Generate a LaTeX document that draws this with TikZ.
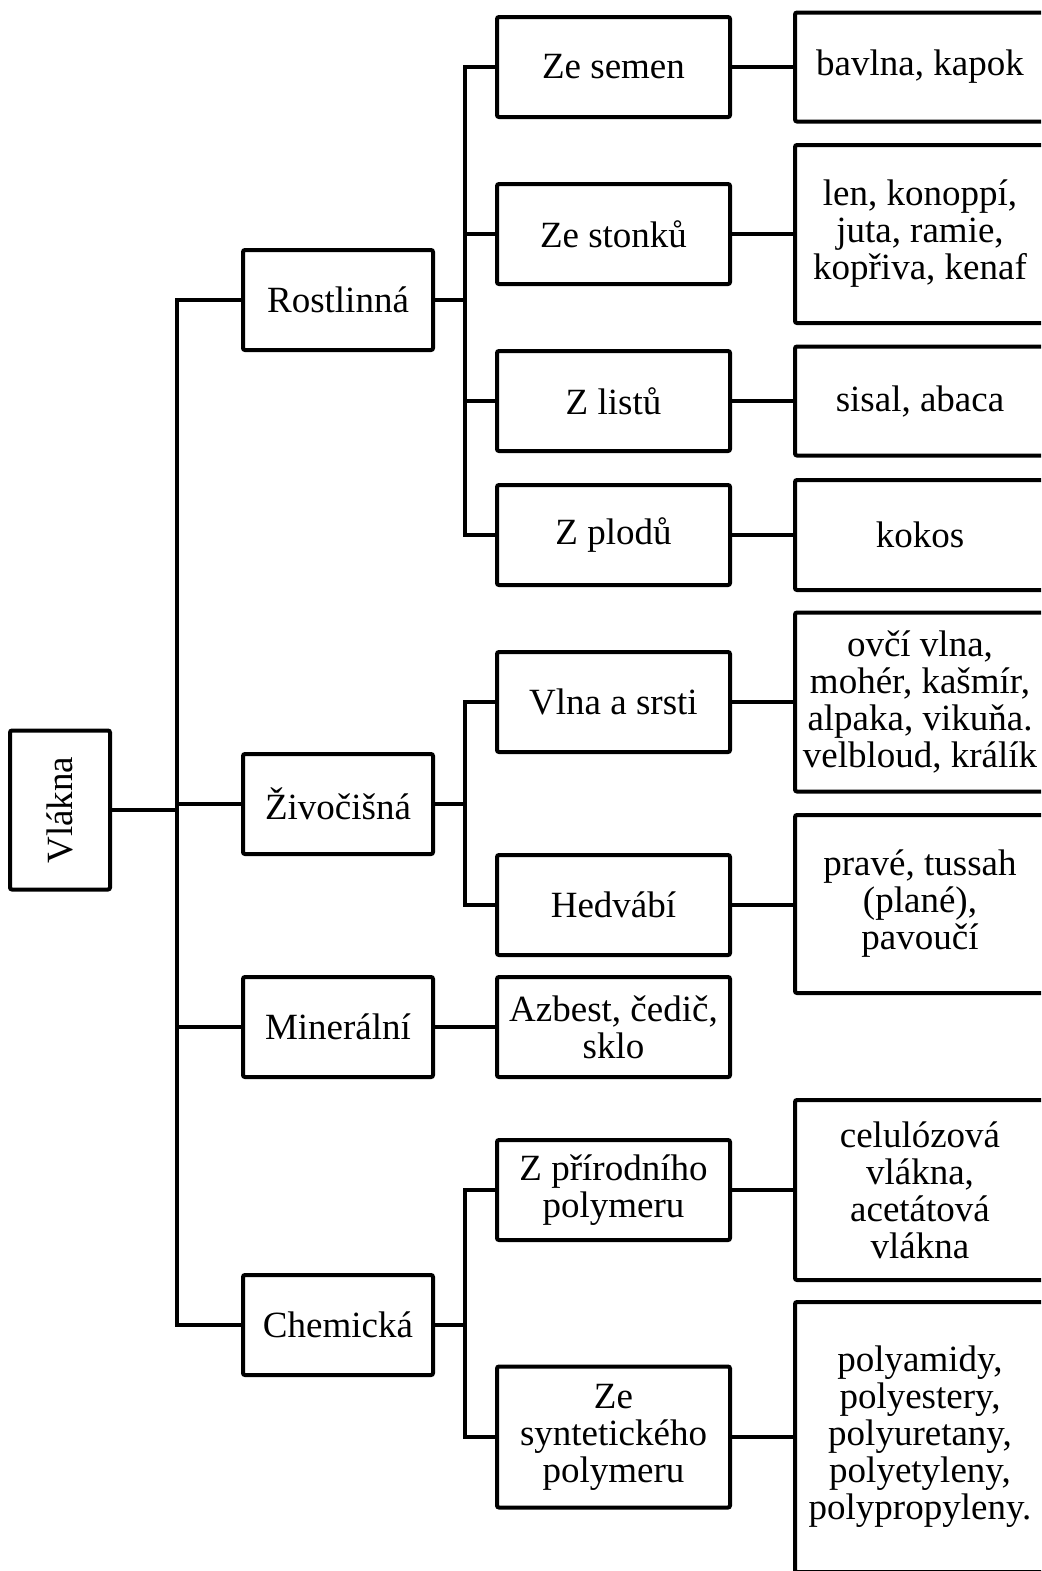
\documentclass[tikz,border=0pt]{standalone}
\usepackage{fontspec}
\setmainfont{Liberation Serif}

\tikzset{
  box/.style={draw, line width=2pt, rounded corners=1pt, align=center, inner sep=0pt,
    font=\fontsize{18.5}{18.5}\selectfont},
  rootbox/.style={box, rotate=90, minimum width=79.5pt, minimum height=50pt},
  kindbox/.style={box, minimum width=95pt, minimum height=50pt},
  srcbox/.style={box, minimum width=116.5pt, minimum height=50pt},
  leafbox/.style={box, minimum width=125pt, minimum height=#1},
  link/.style={line width=2pt, line cap=rect}
}

\begin{document}
\begin{tikzpicture}[x=0.5pt, y=-0.5pt]
\useasboundingbox (0,0) rectangle (1041,1571);
\clip (0,0) rectangle (1041,1571);

\node[rootbox] (vlakna) at (60,810) {Vlákna};

\node[kindbox] (rost) at (338,300) {Rostlinná};
\node[kindbox] (zivo) at (338,804) {Živočišná};
\node[kindbox] (mine) at (338,1027) {Minerální};
\node[kindbox] (chem) at (338,1325) {Chemická};

\node[srcbox] (semen) at (613.5,67) {Ze semen};
\node[srcbox] (stonky) at (613.5,234) {Ze stonků};
\node[srcbox] (listy) at (613.5,401) {Z listů};
\node[srcbox] (plody) at (613.5,535) {Z plodů};
\node[srcbox] (vlna) at (613.5,702) {Vlna a srsti};
\node[srcbox] (hedvabi) at (613.5,905) {Hedvábí};
\node[srcbox] (azbest) at (613.5,1027) {Azbest, čedič,\\sklo};
\node[srcbox] (prirodni) at (613.5,1190) {Z přírodního\\polymeru};
\node[srcbox, minimum height=70.5pt] (synteticky) at (613.5,1437) {Ze\\syntetického\\polymeru};

\node[leafbox=54.5pt] (bavlna) at (920,67) {bavlna, kapok};
\node[leafbox=89pt] (len) at (920,234) {len, konoppí,\\juta, ramie,\\kopřiva, kenaf};
\node[leafbox=54.5pt] (sisal) at (920,401) {sisal, abaca};
\node[leafbox=55pt] (kokos) at (920,535) {kokos};
\node[leafbox=89.5pt] (ovci) at (920,702) {ovčí vlna,\\mohér, kašmír,\\alpaka, vikuňa.\\velbloud, králík};
\node[leafbox=89pt] (prave) at (920,904) {pravé, tussah\\(plané),\\pavoučí};
\node[leafbox=90pt] (celuloza) at (920,1190) {celulózová\\vlákna,\\acetátová\\vlákna};
\node[leafbox=135pt] (polyamidy) at (920,1437) {polyamidy,\\polyestery,\\polyuretany,\\polyetyleny,\\polypropyleny.};

% trunk from the root
\coordinate (t0) at (177,0);
\draw[link] (vlakna.south) -- (vlakna.south -| t0);
\draw[link] (t0 |- rost.west) -- (t0 |- chem.west);
\foreach \k in {rost,zivo,mine,chem}
  \draw[link] (t0 |- \k.west) -- (\k.west);

% branches of the second level
\coordinate (t1) at (465,0);
\draw[link] (rost.east) -- (rost.east -| t1);
\draw[link] (t1 |- semen.west) -- (t1 |- plody.west);
\foreach \s in {semen,stonky,listy,plody}
  \draw[link] (t1 |- \s.west) -- (\s.west);
\draw[link] (zivo.east) -- (zivo.east -| t1);
\draw[link] (t1 |- vlna.west) -- (t1 |- hedvabi.west);
\foreach \s in {vlna,hedvabi}
  \draw[link] (t1 |- \s.west) -- (\s.west);
\draw[link] (mine.east) -- (azbest.west);
\draw[link] (chem.east) -- (chem.east -| t1);
\draw[link] (t1 |- prirodni.west) -- (t1 |- synteticky.west);
\foreach \s in {prirodni,synteticky}
  \draw[link] (t1 |- \s.west) -- (\s.west);

% leaves
\foreach \s/\l in {semen/bavlna,stonky/len,listy/sisal,plody/kokos,vlna/ovci,hedvabi/prave,prirodni/celuloza,synteticky/polyamidy}
  \draw[link] (\s.east) -- (\s.east -| \l.west);
\end{tikzpicture}
\end{document}
